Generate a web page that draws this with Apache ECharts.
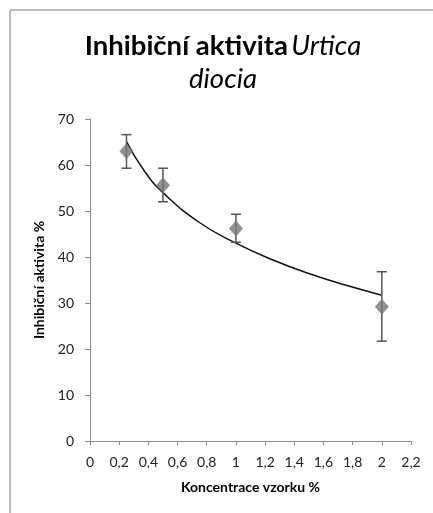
<!DOCTYPE html>
<html>
<head>
<meta charset="utf-8">
<script src="https://cdn.jsdelivr.net/npm/echarts@6/dist/echarts.min.js"></script>
<style>
  html, body { margin: 0; padding: 0; background: #fff; }
  #main { width: 433px; height: 513px; }
</style>
</head>
<body>
<div id="main"></div>
<script>
// measured points (concentration %, inhibition %)
var conc = [0.25, 0.5, 1, 2];
var inhib = [63, 55.6, 46.2, 29.2];
var errLow = [59.3, 52.0, 43.2, 21.7];
var errHigh = [66.6, 59.3, 49.3, 36.8];

// trend line
var trendX = [0.25, 0.375, 0.5, 0.75, 1, 1.25, 1.5, 1.75, 2];
var trendY = [65.1, 58.6, 54.0, 47.5, 43.0, 39.4, 36.4, 33.9, 31.7];

var chartDom = document.getElementById('main');
var myChart = echarts.init(chartDom);
var option;

var labelFont = 'Lato, "Open Sans", sans-serif';

option = {
  animation: false,
  graphic: [
    { type: 'line', shape: { x1: 10, y1: 10, x2: 433, y2: 10 }, style: { stroke: '#bdbdbd', lineWidth: 2 } },
    { type: 'line', shape: { x1: 10, y1: 10, x2: 10, y2: 513 }, style: { stroke: '#bdbdbd', lineWidth: 2 } },
    {
      type: 'text',
      x: 223,
      y: 30,
      style: {
        text: '{b|Inhibiční aktivita} {i|Urtica}\n{i|diocia}',
        textAlign: 'center',
        fill: '#000',
        rich: {
          b: { fontFamily: labelFont, fontWeight: 'bold', fontSize: 27.5, lineHeight: 33 },
          i: { fontFamily: labelFont, fontStyle: 'italic', fontSize: 27.5, lineHeight: 33 }
        }
      }
    }
  ],
  grid: { left: 90, right: 22, top: 119, bottom: 72 },
  xAxis: {
    type: 'value',
    min: 0,
    max: 2.2,
    interval: 0.2,
    name: 'Koncentrace vzorku %',
    nameLocation: 'middle',
    nameGap: 39,
    nameTextStyle: { fontFamily: labelFont, fontWeight: 'bold', fontSize: 14, color: '#000' },
    axisLine: { lineStyle: { color: '#8c8c8c' } },
    axisTick: { show: true, length: 4, lineStyle: { color: '#8c8c8c' } },
    splitLine: { show: false },
    axisLabel: {
      fontFamily: labelFont,
      fontSize: 14,
      color: '#222',
      margin: 14,
      formatter: function (v) { return String(Math.round(v * 10) / 10).replace('.', ','); }
    }
  },
  yAxis: {
    type: 'value',
    min: 0,
    max: 70,
    interval: 10,
    name: 'Inhibiční aktivita %',
    nameLocation: 'middle',
    nameGap: 33,
    nameTextStyle: { fontFamily: labelFont, fontWeight: 'bold', fontSize: 14, color: '#000' },
    axisLine: { show: true, lineStyle: { color: '#8c8c8c' } },
    axisTick: { show: true, length: 5, lineStyle: { color: '#8c8c8c' } },
    splitLine: { show: false },
    axisLabel: { fontFamily: labelFont, fontSize: 14, color: '#222', margin: 16 }
  },
  series: [
    {
      type: 'line',
      data: trendX.map(function (x, i) { return [x, trendY[i]]; }),
      smooth: true,
      symbol: 'none',
      lineStyle: { color: '#111', width: 1.5 },
      z: 3
    },
    {
      type: 'custom',
      data: conc.map(function (x, i) { return [x, errLow[i], errHigh[i]]; }),
      renderItem: function (params, api) {
        var lo = api.coord([api.value(0), api.value(1)]);
        var hi = api.coord([api.value(0), api.value(2)]);
        var w = 5;
        var st = { stroke: '#555', lineWidth: 1.5 };
        return {
          type: 'group',
          children: [
            { type: 'line', shape: { x1: lo[0], y1: lo[1], x2: hi[0], y2: hi[1] }, style: st },
            { type: 'line', shape: { x1: lo[0] - w, y1: lo[1], x2: lo[0] + w, y2: lo[1] }, style: st },
            { type: 'line', shape: { x1: hi[0] - w, y1: hi[1], x2: hi[0] + w, y2: hi[1] }, style: st }
          ]
        };
      },
      z: 4
    },
    {
      type: 'scatter',
      data: conc.map(function (x, i) { return [x, inhib[i]]; }),
      symbol: 'diamond',
      symbolSize: [14, 16],
      itemStyle: { color: '#777' },
      z: 5
    }
  ]
};

option && myChart.setOption(option);
</script>
</body>
</html>
